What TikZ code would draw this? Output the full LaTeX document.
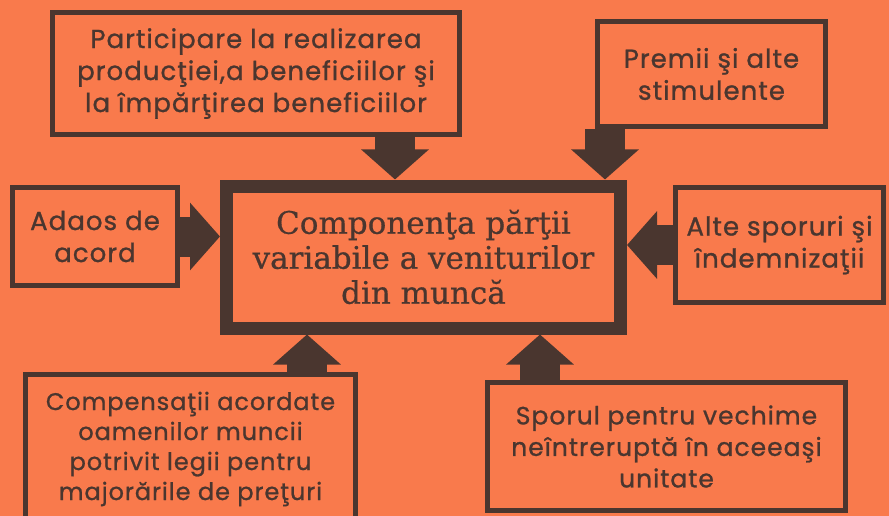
\documentclass[tikz,border=0pt]{standalone}
\usepackage{fontspec}
\setmainfont{Poppins}[LetterSpace=4,FakeBold=1]
\newfontfamily\slabfont{DejaVu Serif}[FakeBold=0.6]
\usetikzlibrary{arrows.meta}
\definecolor{paper}{RGB}{249,122,76}
\definecolor{ink}{RGB}{74,54,47}
\tikzset{every node/.style={text=ink, inner sep=0pt},
  box/.style={draw=ink, line width=5pt, align=center, font=\fontsize{26}{32}\selectfont},
  bigarrow/.style={draw=ink, line width=40pt, -{Triangle[length=30pt,width=66pt]}}}

\begin{document}
\begin{tikzpicture}[x=1pt,y=-1pt]
  \fill[paper] (0,0) rectangle (889,516);
  \useasboundingbox (0,0) rectangle (889,516);
  % center box
  \node[draw=ink, line width=13pt, minimum width=394pt, minimum height=142pt, align=center,
        font=\slabfont\fontsize{31}{35}\selectfont] (comp) at (423.5,257)
        {Componenţa părţii\\variabile a veniturilor\\din muncă};
  % the six sources
  \node[box, minimum width=407pt, minimum height=122pt] (partic) at (256,73.5)
        {Participare la realizarea\\producţiei,a beneficiilor şi\\la împărţirea beneficiilor};
  \node[box, minimum width=228pt, minimum height=105pt] (premii) at (711.5,74)
        {Premii şi alte\\stimulente};
  \node[box, minimum width=165pt, minimum height=98pt] (adaos) at (95,236.5)
        {Adaos de\\acord};
  \node[box, minimum width=208pt, minimum height=115pt] (alte) at (779.5,245)
        {Alte sporuri şi\\îndemnizaţii};
  \node[box, minimum width=330pt, minimum height=150pt, font=\fontsize{24}{30}\selectfont] (compens) at (190.5,449)
        {Compensaţii acordate\\oamenilor muncii\\potrivit legii pentru\\majorările de preţuri};
  \node[box, minimum width=358pt, minimum height=128pt, font=\fontsize{25}{31.5}\selectfont] (spor) at (666.5,446.5)
        {Sporul pentru vechime\\neîntreruptă în aceeaşi\\unitate};
  \coordinate (xa) at (395,0);
  \coordinate (xb) at (605,0);
  \coordinate (xc) at (307,0);
  \coordinate (xd) at (540,0);
  % arrows
  \draw[bigarrow] (partic.south -| xa) -- (comp.north -| xa);
  \draw[bigarrow] (premii.south -| xb) -- (comp.north -| xb);
  \draw[bigarrow] (adaos.east) -- (adaos.east -| comp.west);
  \draw[bigarrow] (alte.west) -- (alte.west -| comp.east);
  \draw[bigarrow] (compens.north -| xc) -- (comp.south -| xc);
  \draw[bigarrow] (spor.north -| xd) -- (comp.south -| xd);
\end{tikzpicture}
\end{document}
